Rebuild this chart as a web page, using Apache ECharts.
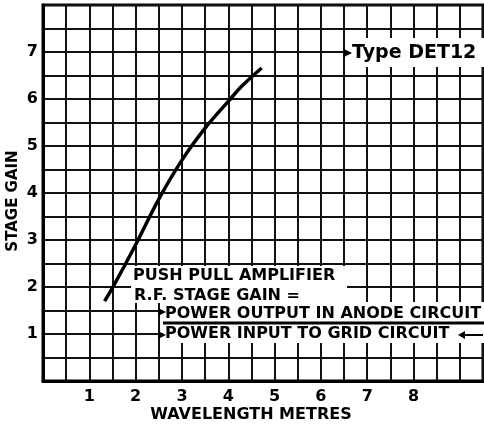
<!DOCTYPE html>
<html>
<head>
<meta charset="utf-8">
<script src="https://cdn.jsdelivr.net/npm/echarts@6/dist/echarts.min.js"></script>
<style>
  html, body { margin: 0; padding: 0; background: #fff; }
  #container { width: 484px; height: 424px; }
</style>
</head>
<body>
<div id="container"></div>
<script>
// wavelength (metres) vs stage gain
var wavelength = [1.33, 1.5, 2.0, 2.5, 3.0, 3.5, 4.0, 4.3, 4.72];
var stageGain = [1.7, 1.98, 2.9, 3.87, 4.7, 5.38, 5.95, 6.28, 6.66];
var xTicks = [1, 2, 3, 4, 5, 6, 7, 8];
var yTicks = [1, 2, 3, 4, 5, 6, 7];

var font = "DejaVu Sans";
var chart = echarts.init(document.getElementById("container"));

var points = wavelength.map(function (w, i) {
  return [w, stageGain[i]];
});

var option = {
  backgroundColor: "#fff",
  animation: false,
  grid: {
    left: 43, right: 1, top: 5, bottom: 43,
    outerBoundsMode: "none",
    containLabel: false,
    show: true, borderColor: "#000", borderWidth: 3
  },
  xAxis: {
    type: "value",
    min: 0, max: 9.5, interval: 0.5,
    axisLine: { show: true, lineStyle: { color: "#000", width: 3 } },
    axisTick: { show: false },
    splitLine: { show: true, lineStyle: { color: "#111", width: 2 } },
    axisLabel: {
      formatter: function (v) { return xTicks.indexOf(v) >= 0 ? String(v) : ""; },
      color: "#000", fontSize: 16, fontWeight: "bold", fontFamily: font, margin: 8
    },
    name: "WAVELENGTH METRES",
    nameLocation: "middle",
    nameGap: 26,
    nameMoveOverlap: false,
    nameTextStyle: {
      color: "#000", fontSize: 16, fontWeight: "bold", fontFamily: font,
      padding: [0, 24, 0, 0]
    }
  },
  yAxis: {
    type: "value",
    min: 0, max: 8, interval: 0.5,
    axisLine: { show: true, lineStyle: { color: "#000", width: 3 } },
    axisTick: { show: false },
    splitLine: { show: true, lineStyle: { color: "#111", width: 2 } },
    axisLabel: {
      formatter: function (v) { return yTicks.indexOf(v) >= 0 ? String(v) : ""; },
      color: "#000", fontSize: 16, fontWeight: "bold", fontFamily: font, margin: 5
    },
    name: "STAGE GAIN",
    nameLocation: "middle",
    nameGap: 22,
    nameMoveOverlap: false,
    nameTextStyle: {
      color: "#000", fontSize: 15, fontWeight: "bold", fontFamily: font,
      padding: [0, 16, 0, 0]
    }
  },
  graphic: [
    // white patches where the printed notes cover the grid
    { type: "rect", z: 100, shape: { x: 348, y: 38, width: 136, height: 29 }, style: { fill: "#fff" } },
    { type: "rect", z: 100, shape: { x: 131, y: 266, width: 216, height: 37 }, style: { fill: "#fff" } },
    { type: "rect", z: 100, shape: { x: 163, y: 302, width: 321, height: 41 }, style: { fill: "#fff" } },
    { type: "polygon", z: 101, shape: { points: [[344, 49], [352, 53], [344, 57]] }, style: { fill: "#000" } },
    {
      type: "text", z: 101, left: 352, top: 44,
      style: { text: "Type DET12", fill: "#000", font: "bold 19px " + font }
    },
    {
      type: "text", z: 101, left: 133, top: 268,
      style: { text: "PUSH PULL AMPLIFIER", fill: "#000", font: "bold 16px " + font }
    },
    {
      type: "text", z: 101, left: 134, top: 288,
      style: { text: "R.F. STAGE GAIN =", fill: "#000", font: "bold 16px " + font }
    },
    {
      type: "text", z: 101, left: 165, top: 306,
      style: { text: "POWER OUTPUT IN ANODE CIRCUIT", fill: "#000", font: "bold 16px " + font }
    },
    { type: "line", z: 101, shape: { x1: 163, y1: 323, x2: 484, y2: 323 }, style: { stroke: "#000", lineWidth: 3 } },
    {
      type: "text", z: 101, left: 165, top: 326,
      style: { text: "POWER INPUT TO GRID CIRCUIT", fill: "#000", font: "bold 16px " + font }
    },
    { type: "line", z: 101, shape: { x1: 462, y1: 335, x2: 483, y2: 335 }, style: { stroke: "#000", lineWidth: 2 } },
    { type: "polygon", z: 101, shape: { points: [[458, 335], [465, 331], [465, 339]] }, style: { fill: "#000" } },
    { type: "polygon", z: 101, shape: { points: [[158, 308], [166, 312], [158, 316]] }, style: { fill: "#000" } },
    { type: "polygon", z: 101, shape: { points: [[158, 331], [166, 335], [158, 339]] }, style: { fill: "#000" } }
  ],
  series: [
    {
      type: "line",
      data: points,
      smooth: 0.3,
      symbol: "none",
      lineStyle: { color: "#000", width: 3.5 },
      z: 5
    }
  ]
};

chart.setOption(option);
</script>
</body>
</html>
